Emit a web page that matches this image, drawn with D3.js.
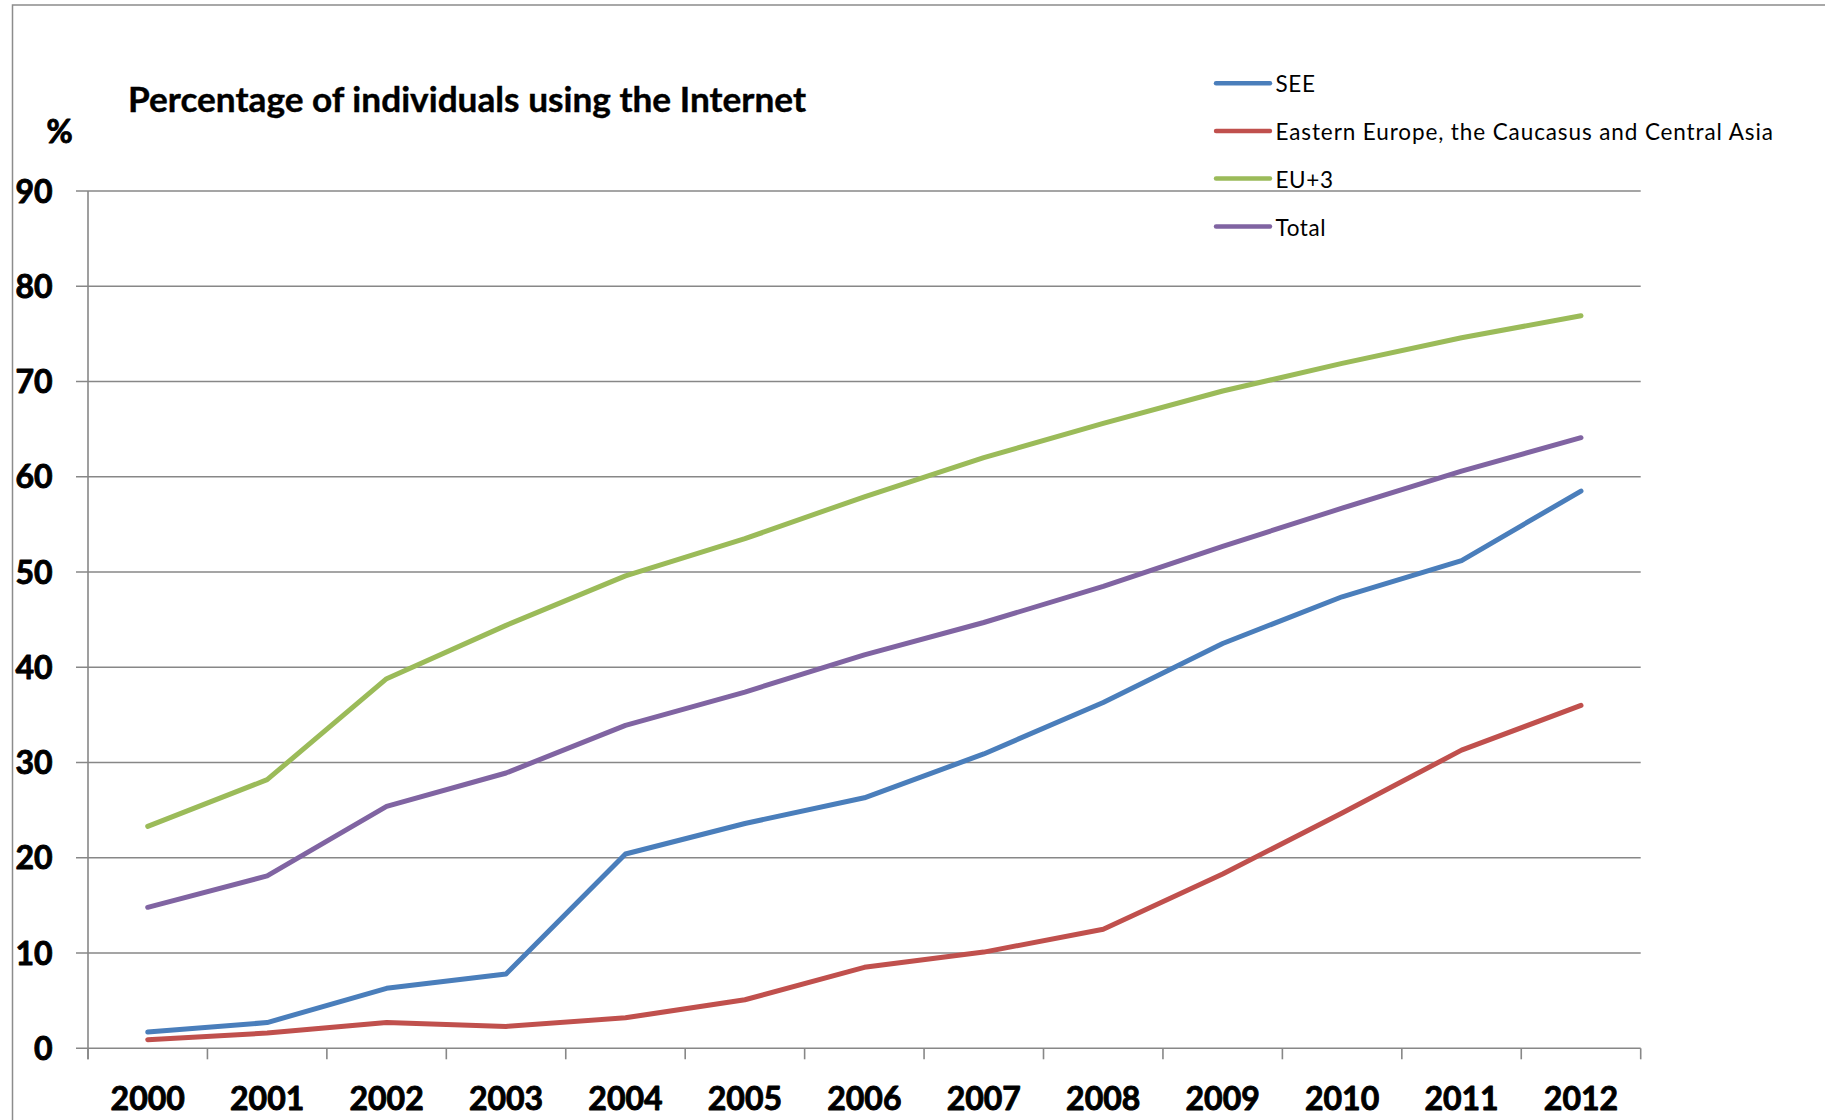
<!DOCTYPE html>
<html>
<head>
<meta charset="utf-8">
<script src="https://cdn.jsdelivr.net/npm/d3@7"></script>
<style>
  html, body { margin: 0; padding: 0; background: #fff; }
  svg { display: block; }
</style>
</head>
<body>
<svg id="chart" width="1825" height="1120"></svg>
<script>
// Internet use by region, share of individuals (%)
const years = ["2000","2001","2002","2003","2004","2005","2006","2007","2008","2009","2010","2011","2012"];
const seeValues     = [1.7, 2.7, 6.3, 7.8, 20.4, 23.6, 26.3, 30.9, 36.3, 42.5, 47.4, 51.2, 58.5];
const eeccaValues   = [0.9, 1.6, 2.7, 2.3, 3.2, 5.1, 8.5, 10.1, 12.5, 18.3, 24.7, 31.3, 36.0];
const eu3Values     = [23.3, 28.2, 38.8, 44.4, 49.6, 53.5, 57.9, 62.0, 65.6, 69.0, 71.9, 74.6, 76.9];
const totalValues   = [14.8, 18.1, 25.4, 28.9, 33.9, 37.4, 41.3, 44.7, 48.5, 52.7, 56.7, 60.6, 64.1];
const seriesNames   = ["SEE", "Eastern Europe, the Caucasus and Central Asia", "EU+3", "Total"];
const seriesColors  = ["#4a7ebb", "#c0504d", "#9bbb59", "#8064a2"];
const yTickValues   = [0, 10, 20, 30, 40, 50, 60, 70, 80, 90];
const titleText     = "Percentage of individuals using the Internet";
const yUnitText     = "%";

const seriesData = [seeValues, eeccaValues, eu3Values, totalValues];

const svg = d3.select("#chart");
const FONT = "Lato, 'Open Sans', sans-serif";
const GRID = "#878787";

// plot area
const plotLeft = 88, plotRight = 1640.7, plotTop = 191, plotBottom = 1048.3;

const x = d3.scaleBand().domain(years).range([plotLeft, plotRight]).padding(0);
const y = d3.scaleLinear().domain([0, 90]).range([plotBottom, plotTop]);

// outer frame
svg.append("rect")
  .attr("x", 12.5).attr("y", 5)
  .attr("width", 1900).attr("height", 1200)
  .attr("fill", "none").attr("stroke", "#8c8c8c").attr("stroke-width", 1.5);

// horizontal gridlines with short outward ticks
svg.append("g").selectAll("line")
  .data(yTickValues)
  .join("line")
  .attr("x1", plotLeft - 12).attr("x2", plotRight)
  .attr("y1", d => y(d)).attr("y2", d => y(d))
  .attr("stroke", GRID).attr("stroke-width", 1.6);

// vertical axis line
svg.append("line")
  .attr("x1", plotLeft).attr("x2", plotLeft)
  .attr("y1", plotTop).attr("y2", plotBottom + 11)
  .attr("stroke", GRID).attr("stroke-width", 1.6);

// category tick marks at the band boundaries
const boundaries = years.map(d => x(d)).concat([plotRight]);
svg.append("g").selectAll("line")
  .data(boundaries)
  .join("line")
  .attr("x1", d => d).attr("x2", d => d)
  .attr("y1", plotBottom).attr("y2", plotBottom + 11)
  .attr("stroke", GRID).attr("stroke-width", 1.6);

// heavy axis label style
const heavy = sel => sel
  .attr("font-family", FONT).attr("font-weight", 700).attr("font-size", 32)
  .attr("fill", "#000").attr("stroke", "#000").attr("stroke-width", 0.9)
  .attr("stroke-linejoin", "round");

// y tick labels
svg.append("g").selectAll("text")
  .data(yTickValues)
  .join("text")
  .attr("x", 52.5).attr("y", d => y(d) + 11.5)
  .attr("text-anchor", "end")
  .call(heavy)
  .text(d => d);

// x tick labels
svg.append("g").selectAll("text")
  .data(years)
  .join("text")
  .attr("x", d => x(d) + x.bandwidth() / 2).attr("y", 1110)
  .attr("text-anchor", "middle")
  .call(heavy)
  .text(d => d);

// unit label
svg.append("text")
  .attr("x", 59.5).attr("y", 142.5)
  .attr("text-anchor", "middle")
  .call(heavy)
  .text(yUnitText);

// title
svg.append("text")
  .attr("x", 128).attr("y", 112.3)
  .attr("font-family", FONT).attr("font-weight", 700).attr("font-size", 33.5)
  .attr("stroke", "#000").attr("stroke-width", 0.4)
  .attr("textLength", 678).attr("lengthAdjust", "spacingAndGlyphs")
  .text(titleText);

// series lines
const line = d3.line()
  .x((d, i) => x(years[i]) + x.bandwidth() / 2)
  .y(d => y(d));

svg.append("g").selectAll("path")
  .data(seriesData)
  .join("path")
  .attr("d", d => line(d))
  .attr("fill", "none")
  .attr("stroke", (d, i) => seriesColors[i])
  .attr("stroke-width", 5)
  .attr("stroke-linejoin", "round")
  .attr("stroke-linecap", "round");

// legend
const legend = svg.append("g");
const legendY = [83.3, 131, 178.5, 226.5];
seriesNames.forEach((name, i) => {
  legend.append("line")
    .attr("x1", 1216).attr("x2", 1270)
    .attr("y1", legendY[i]).attr("y2", legendY[i])
    .attr("stroke", seriesColors[i]).attr("stroke-width", 4.4)
    .attr("stroke-linecap", "round");
  const t = legend.append("text")
    .attr("x", 1275.5).attr("y", legendY[i] + 9)
    .attr("font-family", FONT).attr("font-size", 22.5)
    .attr("letter-spacing", 0.6)
    .attr("fill", "#000")
    .text(name);
  if (i === 1) t.attr("textLength", 498).attr("lengthAdjust", "spacing");
});
</script>
</body>
</html>
